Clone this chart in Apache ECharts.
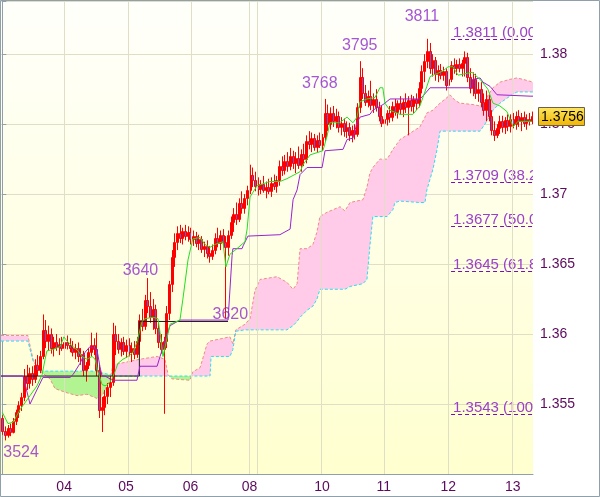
<!DOCTYPE html>
<html><head><meta charset="utf-8">
<script src="https://cdn.jsdelivr.net/npm/echarts@6/dist/echarts.min.js"></script>
<style>html,body{margin:0;padding:0;background:#fff}#c{width:600px;height:497px}</style>
</head><body><div id="c"></div><script>
// ---- candle data (hourly bars) ----
const opens = [1.3540,1.3531,1.3528,1.3533,1.3530,1.3538,1.3544,1.3549,1.3555,1.3570,
1.3565,1.3572,1.3568,1.3578,1.3574,1.3584,1.3603,1.3595,1.3600,1.3590,
1.3594,1.3591,1.3593,1.3590,1.3594,1.3592,1.3590,1.3587,1.3590,1.3584,
1.3586,1.3574,1.3578,1.3587,1.3592,1.3589,1.3574,1.3546,1.3548,1.3556,
1.3562,1.3566,1.3600,1.3595,1.3589,1.3594,1.3588,1.3592,1.3587,1.3590,
1.3586,1.3595,1.3610,1.3606,1.3624,1.3620,1.3612,1.3618,1.3604,1.3594,
1.3589,1.3595,1.3615,1.3636,1.3655,1.3666,1.3672,1.3669,1.3674,1.3670,
1.3673,1.3668,1.3670,1.3665,1.3668,1.3661,1.3663,1.3658,1.3656,1.3660,
1.3669,1.3665,1.3671,1.3666,1.3662,1.3671,1.3680,1.3686,1.3682,1.3694,
1.3690,1.3697,1.3703,1.3714,1.3710,1.3706,1.3704,1.3707,1.3703,1.3705,
1.3702,1.3708,1.3706,1.3710,1.3720,1.3717,1.3724,1.3720,1.3727,1.3722,
1.3726,1.3721,1.3729,1.3725,1.3738,1.3736,1.3740,1.3734,1.3739,1.3735,
1.3741,1.3758,1.3750,1.3758,1.3752,1.3756,1.3748,1.3751,1.3745,1.3748,
1.3742,1.3746,1.3743,1.3762,1.3784,1.3772,1.3766,1.3770,1.3764,1.3768,
1.3762,1.3756,1.3751,1.3754,1.3758,1.3755,1.3763,1.3759,1.3765,1.3761,
1.3766,1.3762,1.3767,1.3763,1.3768,1.3765,1.3776,1.3788,1.3795,1.3802,
1.3790,1.3796,1.3786,1.3789,1.3785,1.3788,1.3778,1.3782,1.3792,1.3790,
1.3793,1.3790,1.3794,1.3798,1.3784,1.3776,1.3782,1.3772,1.3775,1.3766,
1.3760,1.3768,1.3756,1.3746,1.3742,1.3747,1.3752,1.3748,1.3753,1.3749,
1.3754,1.3750,1.3756,1.3752,1.3755,1.3751,1.3754,1.3752];
const highs = [1.3542,1.3534,1.3535,1.3536,1.3540,1.3546,1.3552,1.3558,1.3575,1.3578,
1.3576,1.3577,1.3582,1.3585,1.3588,1.3614,1.3610,1.3606,1.3604,1.3598,
1.3600,1.3597,1.3598,1.3596,1.3599,1.3597,1.3595,1.3593,1.3594,1.3590,
1.3588,1.3580,1.3590,1.3601,1.3597,1.3601,1.3578,1.3555,1.3560,1.3565,
1.3570,1.3608,1.3606,1.3600,1.3597,1.3598,1.3596,1.3597,1.3594,1.3595,
1.3598,1.3614,1.3618,1.3628,1.3640,1.3630,1.3625,1.3621,1.3608,1.3600,
1.3598,1.3620,1.3638,1.3660,1.3672,1.3677,1.3678,1.3676,1.3678,1.3677,
1.3676,1.3674,1.3673,1.3671,1.3670,1.3666,1.3667,1.3663,1.3664,1.3672,
1.3676,1.3674,1.3675,1.3670,1.3674,1.3684,1.3690,1.3694,1.3697,1.3702,
1.3700,1.3706,1.3721,1.3719,1.3716,1.3712,1.3710,1.3713,1.3709,1.3711,
1.3712,1.3714,1.3713,1.3724,1.3727,1.3728,1.3730,1.3733,1.3731,1.3730,
1.3734,1.3732,1.3736,1.3742,1.3745,1.3744,1.3743,1.3742,1.3744,1.3743,
1.3768,1.3764,1.3762,1.3763,1.3761,1.3759,1.3755,1.3754,1.3752,1.3751,
1.3749,1.3750,1.3765,1.3795,1.3790,1.3778,1.3774,1.3781,1.3772,1.3775,
1.3766,1.3763,1.3757,1.3760,1.3763,1.3766,1.3768,1.3767,1.3770,1.3768,
1.3772,1.3770,1.3771,1.3770,1.3772,1.3780,1.3792,1.3800,1.3811,1.3808,
1.3800,1.3798,1.3792,1.3793,1.3791,1.3790,1.3786,1.3795,1.3797,1.3796,
1.3797,1.3796,1.3802,1.3801,1.3790,1.3787,1.3786,1.3780,1.3780,1.3772,
1.3774,1.3771,1.3760,1.3752,1.3750,1.3756,1.3756,1.3755,1.3757,1.3757,
1.3758,1.3759,1.3760,1.3758,1.3759,1.3757,1.3758,1.3759];
const lows = [1.3528,1.3524,1.3526,1.3527,1.3529,1.3535,1.3540,1.3545,1.3552,1.3560,
1.3561,1.3563,1.3565,1.3570,1.3572,1.3582,1.3590,1.3588,1.3586,1.3584,
1.3588,1.3585,1.3588,1.3586,1.3589,1.3587,1.3584,1.3582,1.3580,1.3578,
1.3570,1.3566,1.3575,1.3584,1.3585,1.3570,1.3540,1.3530,1.3542,1.3550,
1.3555,1.3563,1.3585,1.3586,1.3584,1.3585,1.3583,1.3584,1.3580,1.3582,
1.3583,1.3592,1.3602,1.3603,1.3615,1.3608,1.3603,1.3600,1.3590,1.3586,
1.3543,1.3590,1.3610,1.3630,1.3648,1.3660,1.3665,1.3664,1.3667,1.3666,
1.3664,1.3663,1.3662,1.3660,1.3658,1.3655,1.3654,1.3651,1.3653,1.3657,
1.3662,1.3660,1.3662,1.3611,1.3656,1.3668,1.3673,1.3678,1.3680,1.3686,
1.3686,1.3692,1.3700,1.3705,1.3702,1.3699,1.3700,1.3701,1.3697,1.3700,
1.3698,1.3703,1.3701,1.3706,1.3713,1.3714,1.3716,1.3717,1.3718,1.3715,
1.3718,1.3716,1.3720,1.3722,1.3732,1.3730,1.3731,1.3730,1.3733,1.3731,
1.3738,1.3745,1.3746,1.3748,1.3747,1.3744,1.3742,1.3741,1.3740,1.3738,
1.3737,1.3739,1.3741,1.3758,1.3768,1.3763,1.3762,1.3760,1.3758,1.3759,
1.3752,1.3748,1.3745,1.3749,1.3751,1.3752,1.3756,1.3754,1.3757,1.3755,
1.3758,1.3742,1.3759,1.3758,1.3760,1.3762,1.3772,1.3780,1.3790,1.3786,
1.3784,1.3781,1.3780,1.3782,1.3781,1.3774,1.3773,1.3780,1.3786,1.3785,
1.3787,1.3784,1.3784,1.3780,1.3772,1.3770,1.3768,1.3766,1.3762,1.3756,
1.3752,1.3752,1.3742,1.3738,1.3740,1.3743,1.3744,1.3743,1.3745,1.3744,
1.3747,1.3746,1.3748,1.3745,1.3748,1.3746,1.3749,1.3750];
const closes = [1.3531,1.3528,1.3533,1.3530,1.3538,1.3544,1.3549,1.3555,1.3570,1.3565,
1.3572,1.3568,1.3578,1.3574,1.3584,1.3603,1.3595,1.3600,1.3590,1.3594,
1.3591,1.3593,1.3590,1.3594,1.3592,1.3590,1.3587,1.3590,1.3584,1.3586,
1.3574,1.3578,1.3587,1.3592,1.3589,1.3574,1.3546,1.3548,1.3556,1.3562,
1.3566,1.3600,1.3595,1.3589,1.3594,1.3588,1.3592,1.3587,1.3590,1.3586,
1.3595,1.3610,1.3606,1.3624,1.3620,1.3612,1.3618,1.3604,1.3594,1.3589,
1.3595,1.3615,1.3636,1.3655,1.3666,1.3672,1.3669,1.3674,1.3670,1.3673,
1.3668,1.3670,1.3665,1.3668,1.3661,1.3663,1.3658,1.3656,1.3660,1.3669,
1.3665,1.3671,1.3666,1.3662,1.3671,1.3680,1.3686,1.3682,1.3694,1.3690,
1.3697,1.3703,1.3714,1.3710,1.3706,1.3704,1.3707,1.3703,1.3705,1.3702,
1.3708,1.3706,1.3710,1.3720,1.3717,1.3724,1.3720,1.3727,1.3722,1.3726,
1.3721,1.3729,1.3725,1.3738,1.3736,1.3740,1.3734,1.3739,1.3735,1.3741,
1.3758,1.3750,1.3758,1.3752,1.3756,1.3748,1.3751,1.3745,1.3748,1.3742,
1.3746,1.3743,1.3762,1.3784,1.3772,1.3766,1.3770,1.3764,1.3768,1.3762,
1.3756,1.3751,1.3754,1.3758,1.3755,1.3763,1.3759,1.3765,1.3761,1.3766,
1.3762,1.3767,1.3763,1.3768,1.3765,1.3776,1.3788,1.3795,1.3802,1.3790,
1.3796,1.3786,1.3789,1.3785,1.3788,1.3778,1.3782,1.3792,1.3790,1.3793,
1.3790,1.3794,1.3798,1.3784,1.3776,1.3782,1.3772,1.3775,1.3766,1.3760,
1.3768,1.3756,1.3746,1.3742,1.3747,1.3752,1.3748,1.3753,1.3749,1.3754,
1.3750,1.3756,1.3752,1.3755,1.3751,1.3754,1.3752,1.3756];

// ---- x axis (day labels at bar index) ----
const dayLabels = ['04','05','06','08','10','11','12','13'];
const dayLabelIdx = [23,46,70,92,119,142,166,190];
const dayBreaks = [22.9,46.8,70.2,91.8,94.8,118.6,142,165.9,189.7];
// ---- y axis tick labels ----
const yTickLabels = ['1.355','1.36','1.365','1.37','1.375','1.38'];

// ---- indicator lines: [bar index, price] ----
const tenkan = [[0,1.3544],[2.1,1.3536],[4,1.3537],[6.6,1.3546],[7.7,1.3549],[10.3,1.3556],[12.9,1.3563],[14.8,1.3571],[15.9,1.3582],[16.6,1.3588],[18.9,1.3589],[21.5,1.3591],[22.9,1.3598],[24.1,1.3595],[26.3,1.3591],[28.2,1.3588],[29.6,1.3584],[31.5,1.3582],[33.4,1.3584],[34.5,1.3582],[35.6,1.3573],[37.1,1.3564],[38.2,1.3563],[39.3,1.3564],[40.8,1.3568],[41.9,1.3573],[43,1.3579],[44.9,1.3582],[46.8,1.3584],[48.6,1.3587],[50.1,1.3594],[52,1.3609],[53.1,1.3611],[56.1,1.3612],[57.9,1.3611],[58.7,1.3601],[59.8,1.3584],[62.4,1.3607],[66.1,1.3610],[67.2,1.3625],[69.1,1.3653],[70.9,1.3668],[73.6,1.3669],[75.4,1.3664],[77.3,1.3662],[79.1,1.3664],[82.1,1.3666],[83.2,1.3648],[84.7,1.3657],[87.3,1.3661],[90.3,1.3666],[91.1,1.3675],[92.2,1.3698],[94.8,1.3706],[99.6,1.3709],[103.3,1.3709],[105.9,1.3711],[110.8,1.3716],[111.9,1.3721],[113.4,1.3725],[114.5,1.3728],[119.3,1.3731],[120.8,1.3741],[121.9,1.3751],[125.5,1.3751],[128.3,1.3755],[130.5,1.3751],[132,1.3755],[133.1,1.3766],[135.7,1.3768],[138.7,1.3769],[140.5,1.3776],[141.6,1.3776],[142.4,1.3765],[144.2,1.3760],[148,1.3757],[152.8,1.3757],[155.4,1.3763],[158,1.3777],[159.2,1.3784],[164,1.3788],[165.9,1.3791],[167.7,1.3791],[169.6,1.3785],[174.8,1.3787],[177.8,1.3782],[180.7,1.3775],[182.6,1.3765],[185.2,1.3763],[187.8,1.3759],[190.1,1.3748],[191.9,1.3752],[197.1,1.3752]];
const kijun = [[-0.5,1.3570],[7.7,1.3570],[10.3,1.3550],[15.1,1.3569],[25.2,1.3569],[26.3,1.3571],[28.9,1.3579],[30.8,1.3587],[32.6,1.3591],[35.2,1.3589],[36.3,1.3577],[37.1,1.3570],[38.2,1.3570],[40.1,1.3568],[41.2,1.3567],[50.1,1.3567],[51.2,1.3577],[57.6,1.3577],[58.7,1.3584],[62.4,1.3606],[66.1,1.3610],[84,1.3610],[85.5,1.3656],[85.8,1.3661],[89.2,1.3661],[89.6,1.3663],[91.4,1.3670],[103.3,1.3671],[107.1,1.3675],[108.2,1.3696],[109.7,1.3703],[110.8,1.3714],[113.4,1.3719],[119,1.3719],[120.1,1.3731],[126.8,1.3732],[128.3,1.3739],[130.5,1.3740],[132,1.3751],[133.1,1.3755],[136.8,1.3757],[137.9,1.3760],[141.7,1.3764],[144.3,1.3768],[155.4,1.3768],[156.5,1.3770],[159.2,1.3776],[174.8,1.3776],[175.2,1.3782],[177.8,1.3783],[178.9,1.3780],[181.5,1.3777],[184.1,1.3771],[196.4,1.3770],[197.5,1.3770]];
const blackLine = [[-0.5,1.3570],[51,1.3570],[51,1.3609],[84,1.3609]];

// ---- cloud (senkou span A / B) ----
const cloudX = [-0.5,9.5,11.4,14.0,17.7,19.6,24.1,27.8,31.5,35.2,37.5,40.1,41.2,51.2,57.6,60.5,61.7,63.1,69.8,70.9,73.6,76.2,77.3,77.7,84.7,85.8,86.9,90.3,92.2,94.0,95.9,102.2,105.9,108.2,109.7,110.8,113.4,115.6,117.1,118.2,120.8,125.7,127.5,129.4,134.2,135.7,136.8,137.9,140.5,143.2,145.4,146.1,148.0,155.4,157.3,158.0,160.3,161.8,162.9,165.5,166.6,168.5,170.3,175.2,177.8,179.6,182.6,185.2,188.9,191.5,193.8,197.5];
const spanA = [1.3599,1.3599,1.3582,1.35735,1.3568,1.3561,1.3558,1.3556,1.3557,1.3554,1.3557,1.3568,1.3578,1.3582,1.3584,1.3582,1.3571,1.3568,1.3567,1.3573,1.3576,1.3593,1.3595,1.3595,1.3598,1.3593,1.3603,1.3607,1.3611,1.3631,1.3639,1.3641,1.3637,1.3632,1.3636,1.3661,1.3661,1.3664,1.3673,1.3684,1.3687,1.3691,1.3688,1.3694,1.3696,1.3705,1.3715,1.3719,1.3725,1.3725,1.3732,1.3733,1.3739,1.3748,1.3755,1.3758,1.3760,1.3763,1.3765,1.3769,1.3771,1.3767,1.3765,1.3764,1.3763,1.3767,1.3776,1.3780,1.3782,1.3783,1.3782,1.3780];
const spanB = [1.3595,1.3595,1.3581,1.35735,1.35735,1.35735,1.35735,1.35735,1.35735,1.35735,1.3572,1.3571,1.3570,1.3570,1.3570,1.3570,1.3570,1.3570,1.3570,1.3570,1.3570,1.3570,1.3570,1.3584,1.3584,1.3589,1.3602,1.3603,1.3603,1.3603,1.3603,1.3603,1.3603,1.3606,1.3609,1.3612,1.3617,1.3620,1.3625,1.3632,1.3632,1.3632,1.3632,1.3634,1.3636,1.3639,1.3663,1.3684,1.3684,1.3684,1.3689,1.3694,1.3695,1.3694,1.3694,1.3703,1.3718,1.3732,1.3745,1.3745,1.3745,1.3745,1.3745,1.3745,1.3745,1.3750,1.3760,1.3765,1.3770,1.3773,1.3773,1.3773];

// ---- fibonacci levels ----
const fibLevels = [1.3811,1.3709,1.3677,1.3645,1.3543];
const fibTexts = ['1.3811 (0.00%)','1.3709 (38.2%)','1.3677 (50.0%)','1.3645 (61.8%)','1.3543 (100.0%)'];
const fibStartIdx = 167;

// ---- swing labels ----
const swingIdx = [1,54,83,120,133,158];
const swingPrice = [1.3524,1.3640,1.3620,1.3768,1.3795,1.3811];
const swingText = ['3524','3640','3620','3768','3795','3811'];
const swingOffset = [[16,12],[-7,-7],[5,9],[-5,-15],[0,-16],[-5,-22]];

const N = closes.length;
const FONT = '"Liberation Sans", Arial, sans-serif';
const categories = closes.map((_, i) => 'b' + i);
const candleRows = closes.map((c, i) => [i, opens[i], c, lows[i], highs[i]]);
const labelFor = i => { const k = dayLabelIdx.indexOf(i); return k >= 0 ? dayLabels[k] : ''; };
const axisGray = '#8fa0aa';
const gridColor = '#e0dec4';

const chart = echarts.init(document.getElementById('c'));
chart.setOption({
  animation: false,
  backgroundColor: '#ffffff',
  grid: { left: 1, right: 67, top: 1, bottom: 23, show: true, borderWidth: 0,
    backgroundColor: new echarts.graphic.LinearGradient(0, 0, 0, 1, [{offset: 0, color: '#fffffb'}, {offset: 1, color: '#ffffcf'}]) },
  graphic: [{ type: 'rect', shape: {x: 0.5, y: 0.5, width: 599, height: 496}, style: {fill: 'none', stroke: axisGray, lineWidth: 1}, z: 100 }],
  xAxis: [{
    type: 'category', data: categories, boundaryGap: true,
    axisLine: { lineStyle: { color: axisGray } },
    axisTick: { alignWithLabel: true, length: 4, interval: (i) => dayLabelIdx.includes(i), lineStyle: { color: axisGray } },
    axisLabel: { interval: (i) => dayLabelIdx.includes(i), formatter: (v, i) => labelFor(i), color: '#5c0a5c', fontSize: 14, fontFamily: FONT, margin: 6 },
    splitLine: { show: false }
  }, {
    type: 'value', min: -0.5, max: N - 0.5, show: false
  }],
  yAxis: [{
    type: 'value', position: 'right', min: 1.35, max: 1.3838, interval: 0.005, scale: true,
    axisLine: { show: true, lineStyle: { color: axisGray } },
    axisTick: { show: true, length: 4, lineStyle: { color: axisGray } },
    axisLabel: { color: '#5c0a5c', fontSize: 14, fontFamily: FONT, margin: 7,
      formatter: v => { const s = String(+(+v).toFixed(4)); return yTickLabels.includes(s) ? s : ''; } },
    splitLine: { show: true, lineStyle: { color: gridColor, width: 1 } }
  }],
  series: [
    { name: 'daygrid', type: 'line', xAxisIndex: 1, data: [], silent: true, z: 1,
      markLine: { silent: true, symbol: 'none', label: { show: false },
        lineStyle: { color: gridColor, type: 'solid', width: 1 },
        data: dayBreaks.map(x => ({ xAxis: x })) } },
    { name: 'cloud', type: 'custom', xAxisIndex: 1, yAxisIndex: 0, data: [[0, 1.36]], clip: true, silent: true, z: 2,
      renderItem: (params, api) => {
        const children = [];
        let cur = null, top = [], bot = [];
        const flush = () => { if (top.length > 1) children.push({ type: 'polygon', shape: { points: top.concat(bot.slice().reverse()) }, style: { fill: cur >= 0 ? '#ffcbe9' : '#b2f392' } }); };
        for (let k = 0; k < cloudX.length; k++) {
          const d = spanA[k] - spanB[k];
          let s = d > 0 ? 1 : (d < 0 ? -1 : (cur === null ? 1 : cur));
          if (cur === null) cur = s;
          if (k > 0 && s !== cur) {
            const dp = spanA[k-1] - spanB[k-1];
            const t = dp / (dp - d);
            const xc = cloudX[k-1] + t * (cloudX[k] - cloudX[k-1]);
            const yc = spanA[k-1] + t * (spanA[k] - spanA[k-1]);
            const pc = api.coord([xc, yc]);
            top.push(pc); bot.push(pc); flush();
            top = [pc]; bot = [pc]; cur = s;
          }
          top.push(api.coord([cloudX[k], spanA[k]]));
          bot.push(api.coord([cloudX[k], spanB[k]]));
        }
        flush();
        return { type: 'group', children };
      } },
    { name: 'spanA', type: 'line', xAxisIndex: 1, data: cloudX.map((x, k) => [x, spanA[k]]), symbol: 'none', silent: true, z: 3,
      lineStyle: { color: '#f28a8a', width: 1, type: [3, 2] } },
    { name: 'spanB', type: 'line', xAxisIndex: 1, data: cloudX.map((x, k) => [x, spanB[k]]), symbol: 'none', silent: true, z: 3,
      lineStyle: { color: '#22e2f2', width: 1, type: [3, 2] } },
    { name: 'fib', type: 'custom', xAxisIndex: 1, yAxisIndex: 0, data: [[0, 1.36]], clip: true, silent: true, z: 3,
      renderItem: (params, api) => {
        const cs = params.coordSys; const children = [];
        fibLevels.forEach((lv, k) => {
          const p = api.coord([fibStartIdx, lv]);
          const y = Math.round(p[1]) + 0.5;
          children.push({ type: 'line', shape: { x1: p[0], y1: y, x2: cs.x + cs.width, y2: y }, style: { stroke: '#7a10b0', lineWidth: 1, lineDash: [4, 3] } });
          children.push({ type: 'text', x: p[0] + 2, y: y + 1, style: { text: fibTexts[k], fill: '#9a40cc', font: '15px ' + FONT, textAlign: 'left', verticalAlign: 'bottom', textVerticalAlign: 'bottom' } });
        });
        return { type: 'group', children };
      } },
    { name: 'candles', type: 'custom', xAxisIndex: 0, yAxisIndex: 0, data: candleRows, clip: true, silent: true, z: 4,
      encode: { x: 0, y: [1, 2, 3, 4] },
      renderItem: (params, api) => {
        const i = api.value(0), o = api.value(1), c = api.value(2), l = api.value(3), h = api.value(4);
        const pO = api.coord([i, o]), pC = api.coord([i, c]), pL = api.coord([i, l]), pH = api.coord([i, h]);
        const xr = Math.round(pO[0]);
        const xc = xr + 0.5;
        const top = Math.round(Math.min(pO[1], pC[1])), bot = Math.round(Math.max(pO[1], pC[1]));
        const bear = c < o;
        return { type: 'group', children: [
          { type: 'line', shape: { x1: xc, y1: pH[1], x2: xc, y2: pL[1] }, style: { stroke: '#ff0000', lineWidth: 1 } },
          { type: 'rect', shape: { x: xr - 0.5, y: top + 0.5, width: 2, height: Math.max(bot - top, 1) },
            style: { fill: bear ? '#6a5acd' : 'rgba(0,0,0,0)', stroke: '#ff0000', lineWidth: 1 } }
        ] };
      } },
    { name: 'black', type: 'line', xAxisIndex: 1, data: blackLine, symbol: 'none', silent: true, z: 5,
      lineStyle: { color: '#1a1a1a', width: 1 } },
    { name: 'kijun', type: 'line', xAxisIndex: 1, data: kijun, symbol: 'none', silent: true, z: 5,
      lineStyle: { color: '#9a22d0', width: 1 } },
    { name: 'tenkan', type: 'line', xAxisIndex: 1, data: tenkan, symbol: 'none', silent: true, z: 6,
      lineStyle: { color: '#22e022', width: 1 } },
    { name: 'swings', type: 'scatter', xAxisIndex: 1, yAxisIndex: 0, symbolSize: 0, silent: true, z: 7,
      data: swingIdx.map((x, k) => ({ value: [x, swingPrice[k]], label: { offset: swingOffset[k] } })),
      label: { show: true, position: 'inside', formatter: p => swingText[p.dataIndex], color: '#8e2ccc', fontSize: 16, fontFamily: FONT } },
    { name: 'pricetag', type: 'custom', xAxisIndex: 1, yAxisIndex: 0, data: [[N - 1, closes[N - 1]]], clip: false, silent: true, z: 20,
      renderItem: (params, api) => {
        const cs = params.coordSys;
        const p = api.coord([N - 1, closes[N - 1]]);
        const x = cs.x + cs.width + 5, y = Math.round(p[1]);
        return { type: 'group', children: [
          { type: 'rect', shape: { x: x + 0.5, y: y - 8.5, width: 46, height: 18 },
            style: { fill: new echarts.graphic.LinearGradient(0, 0, 0, 1, [{offset: 0, color: '#ffe862'}, {offset: 1, color: '#f0b400'}]), stroke: '#6e6040', lineWidth: 1 } },
          { type: 'text', x: x + 3, y: y + 1, style: { text: closes[N - 1].toFixed(4), fill: '#000', font: '14px ' + FONT, verticalAlign: 'middle', textVerticalAlign: 'middle' } }
        ] };
      } }
  ]
});
</script></body></html>
